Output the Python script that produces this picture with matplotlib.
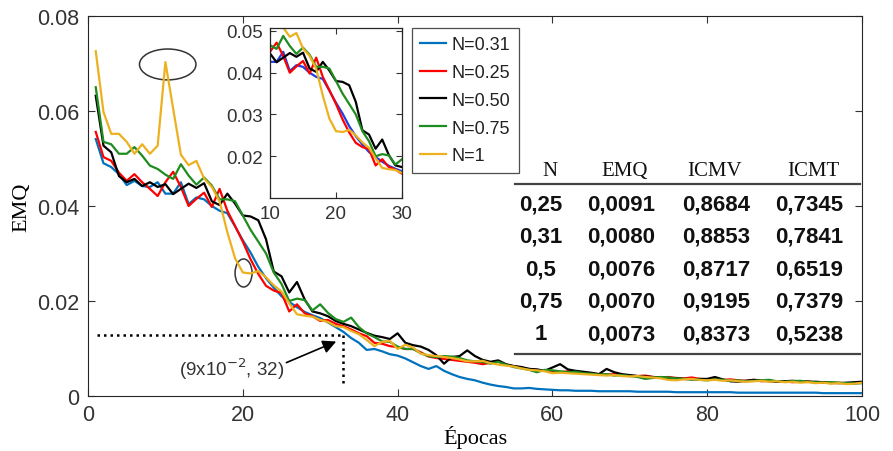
import numpy as np
import matplotlib
matplotlib.use("Agg")
import matplotlib.pyplot as plt
from matplotlib.patches import Ellipse
from matplotlib.lines import Line2D

epochs = np.arange(1, 101)

emq_031 = [0.0541, 0.0490, 0.0482, 0.0467, 0.0444, 0.0453, 0.0442, 0.0440, 0.0450, 0.0426,
           0.0426, 0.0450, 0.0404, 0.0418, 0.0414, 0.0400, 0.0390, 0.0385, 0.0357, 0.0328,
           0.0302, 0.0272, 0.0248, 0.0228, 0.0210, 0.0198, 0.0187, 0.0177, 0.0170, 0.0164,
           0.0155, 0.0145, 0.0135, 0.0122, 0.0112, 0.0097, 0.0099, 0.0094, 0.0088, 0.0085,
           0.0079, 0.0071, 0.0063, 0.0057, 0.0063, 0.0053, 0.0046, 0.0040, 0.0036, 0.0033,
           0.0028, 0.0024, 0.0021, 0.0019, 0.0016, 0.0016, 0.0017, 0.0015, 0.0014, 0.0013,
           0.0012, 0.0012, 0.0011, 0.0011, 0.0011, 0.0010, 0.0010, 0.0010, 0.0010, 0.0010,
           0.0009, 0.0009, 0.0009, 0.0009, 0.0009, 0.0008, 0.0008, 0.0008, 0.0008, 0.0008,
           0.0008, 0.0008, 0.0008, 0.0007, 0.0007, 0.0007, 0.0007, 0.0007, 0.0007, 0.0007,
           0.0007, 0.0007, 0.0007, 0.0007, 0.0006, 0.0006, 0.0006, 0.0006, 0.0006, 0.0006]

emq_025 = [0.0556, 0.0503, 0.0495, 0.0470, 0.0453, 0.0467, 0.0450, 0.0436, 0.0421, 0.0450,
           0.0472, 0.0440, 0.0400, 0.0415, 0.0428, 0.0398, 0.0436, 0.0390, 0.0358, 0.0325,
           0.0288, 0.0257, 0.0232, 0.0222, 0.0217, 0.0178, 0.0193, 0.0174, 0.0168, 0.0158,
           0.0160, 0.0152, 0.0147, 0.0140, 0.0132, 0.0126, 0.0112, 0.0110, 0.0105, 0.0103,
           0.0099, 0.0099, 0.0092, 0.0083, 0.0080, 0.0078, 0.0076, 0.0074, 0.0072, 0.0070,
           0.0067, 0.0070, 0.0072, 0.0066, 0.0063, 0.0060, 0.0057, 0.0055, 0.0053, 0.0052,
           0.0050, 0.0052, 0.0049, 0.0047, 0.0048, 0.0046, 0.0045, 0.0046, 0.0044, 0.0043,
           0.0042, 0.0043, 0.0040, 0.0039, 0.0040, 0.0038, 0.0037, 0.0039, 0.0036, 0.0035,
           0.0036, 0.0034, 0.0035, 0.0033, 0.0032, 0.0034, 0.0031, 0.0032, 0.0030, 0.0031,
           0.0029, 0.0030, 0.0031, 0.0028, 0.0029, 0.0027, 0.0028, 0.0026, 0.0027, 0.0029]

emq_050 = [0.0632, 0.0527, 0.0513, 0.0463, 0.0450, 0.0457, 0.0442, 0.0450, 0.0440, 0.0446,
           0.0425, 0.0436, 0.0447, 0.0438, 0.0448, 0.0410, 0.0402, 0.0426, 0.0405, 0.0380,
           0.0378, 0.0370, 0.0330, 0.0262, 0.0252, 0.0218, 0.0240, 0.0203, 0.0178, 0.0174,
           0.0168, 0.0158, 0.0152, 0.0147, 0.0140, 0.0133, 0.0127, 0.0124, 0.0120, 0.0132,
           0.0112, 0.0107, 0.0104, 0.0097, 0.0086, 0.0068, 0.0082, 0.0084, 0.0096, 0.0084,
           0.0076, 0.0072, 0.0075, 0.0067, 0.0063, 0.0061, 0.0057, 0.0056, 0.0053, 0.0060,
           0.0067, 0.0056, 0.0053, 0.0051, 0.0049, 0.0046, 0.0057, 0.0050, 0.0046, 0.0044,
           0.0042, 0.0041, 0.0040, 0.0039, 0.0038, 0.0037, 0.0036, 0.0035, 0.0036, 0.0036,
           0.0040, 0.0035, 0.0031, 0.0030, 0.0032, 0.0034, 0.0033, 0.0031, 0.0030, 0.0031,
           0.0032, 0.0031, 0.0030, 0.0030, 0.0029, 0.0028, 0.0027, 0.0028, 0.0029, 0.0030]

emq_075 = [0.0650, 0.0535, 0.0530, 0.0510, 0.0510, 0.0524, 0.0506, 0.0485, 0.0478, 0.0466,
           0.0457, 0.0488, 0.0464, 0.0445, 0.0460, 0.0443, 0.0414, 0.0414, 0.0410, 0.0380,
           0.0350, 0.0325, 0.0300, 0.0260, 0.0236, 0.0200, 0.0205, 0.0202, 0.0180, 0.0193,
           0.0175, 0.0162, 0.0156, 0.0165, 0.0145, 0.0132, 0.0124, 0.0115, 0.0114, 0.0104,
           0.0099, 0.0099, 0.0090, 0.0084, 0.0082, 0.0084, 0.0083, 0.0080, 0.0075, 0.0073,
           0.0072, 0.0068, 0.0072, 0.0066, 0.0061, 0.0058, 0.0055, 0.0050, 0.0055, 0.0054,
           0.0052, 0.0050, 0.0051, 0.0048, 0.0047, 0.0045, 0.0046, 0.0043, 0.0044, 0.0042,
           0.0040, 0.0036, 0.0038, 0.0040, 0.0039, 0.0037, 0.0036, 0.0035, 0.0034, 0.0033,
           0.0035, 0.0034, 0.0032, 0.0033, 0.0031, 0.0032, 0.0033, 0.0034, 0.0031, 0.0030,
           0.0031, 0.0032, 0.0030, 0.0029, 0.0028, 0.0029, 0.0028, 0.0027, 0.0026, 0.0027]

emq_1 = [0.0726, 0.0598, 0.0552, 0.0552, 0.0535, 0.0510, 0.0530, 0.0510, 0.0527, 0.0703,
         0.0605, 0.0508, 0.0486, 0.0495, 0.0458, 0.0440, 0.0410, 0.0345, 0.0290, 0.0260,
         0.0258, 0.0263, 0.0250, 0.0233, 0.0220, 0.0195, 0.0172, 0.0169, 0.0167, 0.0160,
         0.0156, 0.0147, 0.0145, 0.0137, 0.0130, 0.0118, 0.0105, 0.0114, 0.0116, 0.0099,
         0.0108, 0.0102, 0.0089, 0.0086, 0.0084, 0.0082, 0.0080, 0.0077, 0.0073, 0.0073,
         0.0074, 0.0069, 0.0066, 0.0064, 0.0062, 0.0058, 0.0055, 0.0054, 0.0052, 0.0048,
         0.0049, 0.0048, 0.0047, 0.0046, 0.0045, 0.0044, 0.0043, 0.0044, 0.0042, 0.0041,
         0.0042, 0.0040, 0.0039, 0.0037, 0.0034, 0.0033, 0.0035, 0.0036, 0.0034, 0.0033,
         0.0034, 0.0032, 0.0033, 0.0031, 0.0030, 0.0031, 0.0032, 0.0030, 0.0031, 0.0029,
         0.0030, 0.0028, 0.0029, 0.0027, 0.0028, 0.0026, 0.0027, 0.0025, 0.0026, 0.0028]

series_labels = ["N=0.31", "N=0.25", "N=0.50", "N=0.75", "N=1"]
series_colors = ["#0072BD", "#FF0000", "#000000", "#1E8C1E", "#EDB120"]
inset_colors = ["#1F3FE6", "#FF0000", "#000000", "#1E8C1E", "#EDB120"]
series_data = [emq_031, emq_025, emq_050, emq_075, emq_1]

table_header = ["N", "EMQ", "ICMV", "ICMT"]
table_rows = [["0,25", "0,0091", "0,8684", "0,7345"],
              ["0,31", "0,0080", "0,8853", "0,7841"],
              ["0,5", "0,0076", "0,8717", "0,6519"],
              ["0,75", "0,0070", "0,9195", "0,7379"],
              ["1", "0,0073", "0,8373", "0,5238"]]

main_xticks = [0, 20, 40, 60, 80, 100]
main_yticks = [0, 0.02, 0.04, 0.06, 0.08]
main_yticklabels = ["0", "0.02", "0.04", "0.06", "0.08"]
inset_xticks = [10, 20, 30]
inset_yticks = [0.02, 0.03, 0.04, 0.05]
inset_yticklabels = ["0.02", "0.03", "0.04", "0.05"]

W, H = 893, 452
SANS = "Liberation Sans"
SERIF = "Liberation Serif"
TICKC = "#333333"

fig = plt.figure(figsize=(W / 100, H / 100), dpi=100)


def fig_rect(x0, y0, x1, y1):
    return [x0 / W, 1 - y1 / H, (x1 - x0) / W, (y1 - y0) / H]


def fxy(px, py):
    return px / W, 1 - py / H


# ---- main axes ----
ax = fig.add_axes(fig_rect(88, 17, 862, 397))
lines = []
for d, c, lab in zip(series_data, series_colors, series_labels):
    ln, = ax.plot(epochs, d, color=c, lw=1.6, label=lab)
    lines.append(ln)
ax.set_xlim(0, 100)
ax.set_ylim(0, 0.08)
ax.set_xticks(main_xticks)
ax.set_xticklabels([str(t) for t in main_xticks])
ax.set_yticks(main_yticks)
ax.set_yticklabels(main_yticklabels)
ax.tick_params(direction="in", length=5, width=0.8, top=True, right=True,
               labelsize=15.5, colors=TICKC, pad=6)
for lab in ax.get_xticklabels() + ax.get_yticklabels():
    lab.set_fontfamily(SANS)
for sp in ax.spines.values():
    sp.set_color("#262626")
    sp.set_linewidth(0.8)
ax.set_xlabel("Épocas", fontfamily=SERIF, fontsize=16, labelpad=0)
ax.set_ylabel("EMQ", fontfamily=SERIF, fontsize=16, labelpad=4)

# annotation
ax.plot([1.1, 33.0], [0.0128, 0.0128], color="k", lw=1.8, ls=(0, (1, 1.6)))
ax.plot([33.0, 33.0], [0.0128, 0.0019], color="k", lw=1.8, ls=(0, (1, 1.6)))
ax.annotate("", xy=(32.4, 0.0117), xytext=(25.3, 0.0068),
            arrowprops=dict(arrowstyle="-|>", color="k", lw=1.2, mutation_scale=20))
ax.text(18.5, 0.0058, "(9x10$^{-2}$, 32)", fontfamily=SANS, fontsize=13.5,
        color="#333333", ha="center", va="center")

# ellipses
ax.add_patch(Ellipse((10.3, 0.0698), 7.3, 0.0065, fill=False, ec="#333333", lw=1.1))
ax.add_patch(Ellipse((20.1, 0.0259), 2.2, 0.0059, fill=False, ec="#333333", lw=1.1))

# ---- table ----
header_x = [550, 625, 715, 813]
row_x = [541, 621, 716, 809]
for hx, ht in zip(header_x, table_header):
    fig.text(*fxy(hx, 172), ht, fontfamily=SERIF, fontsize=15, ha="center",
             va="center", color="#111111")
row_y = [205, 237, 270, 302, 335]
for ry, row in zip(row_y, table_rows):
    for rx, val in zip(row_x, row):
        fig.text(*fxy(rx, ry), val, fontfamily=SANS, fontweight="bold", fontsize=16,
                 ha="center", va="center", color="#111111")
for yy in (185, 355):
    x0, y0 = fxy(515, yy)
    x1, _ = fxy(860, yy)
    fig.add_artist(Line2D([x0, x1], [y0, y0], color="#444444", lw=1.6,
                          transform=fig.transFigure))

# ---- legend ----
leg = fig.legend(handles=lines, labels=series_labels, loc="upper left",
                 bbox_to_anchor=fxy(412, 29), prop={"family": SANS, "size": 13},
                 frameon=True, fancybox=False, handlelength=1.45, handletextpad=0.3,
                 labelspacing=0.6, borderpad=0.45, borderaxespad=0)
leg.get_frame().set_edgecolor("#222222")
leg.get_frame().set_linewidth(0.9)
for t in leg.get_texts():
    t.set_color("#222222")

# ---- inset ----
ins = fig.add_axes(fig_rect(270, 29, 402, 199))
for d, c in zip(series_data, inset_colors):
    ins.plot(epochs, d, color=c, lw=1.6)
ins.set_xlim(10, 30)
ins.set_ylim(0.01, 0.0507)
ins.set_xticks(inset_xticks)
ins.set_xticklabels([str(t) for t in inset_xticks])
ins.set_yticks(inset_yticks)
ins.set_yticklabels(inset_yticklabels)
ins.tick_params(direction="in", length=4, width=0.8, top=True, right=True,
                labelsize=13.5, colors=TICKC, pad=5)
for lab in ins.get_xticklabels() + ins.get_yticklabels():
    lab.set_fontfamily(SANS)
for sp in ins.spines.values():
    sp.set_color("#262626")
    sp.set_linewidth(0.9)

fig.savefig("out.png", dpi=100)
